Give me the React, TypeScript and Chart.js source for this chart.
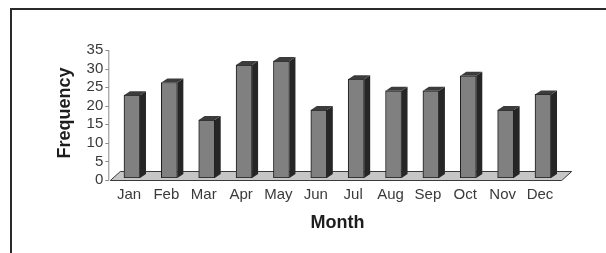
import React, { useEffect, useRef } from "react";
import { Chart, registerables } from "chart.js";

Chart.register(...registerables);

const months = ["Jan", "Feb", "Mar", "Apr", "May", "Jun", "Jul", "Aug", "Sep", "Oct", "Nov", "Dec"];
const frequency = [22.3, 25.7, 15.6, 30.4, 31.5, 18.3, 26.6, 23.5, 23.5, 27.5, 18.3, 22.5];
const yMin = 0;
const yMax = 35;
const yStep = 5;
const xTitle = "Month";
const yTitle = "Frequency";

const depthPlugin = {
  id: "depth3d",
  beforeDatasetsDraw(chart: any) {
    const { ctx } = chart;
    const x = chart.scales.x;
    const y = chart.scales.y;
    const z = y.getPixelForValue(0);
    const fl = x.left - 3;
    const fr = x.right;
    const fy = z + 2.5;
    const by = fy - 9;
    const d = 10;
    ctx.save();
    // floor
    ctx.beginPath();
    ctx.moveTo(fl, fy);
    ctx.lineTo(fr, fy);
    ctx.lineTo(fr + d, by);
    ctx.lineTo(fl + d, by);
    ctx.closePath();
    ctx.fillStyle = "#c6c6c6";
    ctx.fill();
    ctx.lineWidth = 1;
    ctx.strokeStyle = "#3a3a3a";
    ctx.stroke();
    // y axis line with tick marks
    const ax = x.left - 5;
    ctx.strokeStyle = "#8a8a8a";
    ctx.beginPath();
    ctx.moveTo(ax + 0.5, y.getPixelForValue(yMax) + 2);
    ctx.lineTo(ax + 0.5, fy);
    for (let v = yMin; v <= yMax; v += yStep) {
      const p = Math.round(y.getPixelForValue(v) + 2) + 0.5;
      ctx.moveTo(ax - 3, p);
      ctx.lineTo(ax + 0.5, p);
    }
    ctx.stroke();
    ctx.restore();
  },
  afterDatasetsDraw(chart: any) {
    const { ctx } = chart;
    const meta = chart.getDatasetMeta(0);
    const dx = 6;
    const dy = 4;
    ctx.save();
    meta.data.forEach((bar: any) => {
      const p = bar.getProps(["x", "y", "base", "width"], true);
      const l = p.x - p.width / 2;
      const r = p.x + p.width / 2;
      const top = p.y;
      const base = p.base;
      // side face
      ctx.beginPath();
      ctx.moveTo(r, top);
      ctx.lineTo(r + dx, top - dy);
      ctx.lineTo(r + dx, base - dy);
      ctx.lineTo(r, base);
      ctx.closePath();
      ctx.fillStyle = "#262626";
      ctx.fill();
      // top cap
      ctx.beginPath();
      ctx.moveTo(l, top);
      ctx.lineTo(l + dx, top - dy);
      ctx.lineTo(r + dx, top - dy);
      ctx.lineTo(r, top);
      ctx.closePath();
      ctx.fillStyle = "#3c3c3c";
      ctx.fill();
    });
    ctx.restore();
  },
};

export default function App() {
  const ref = useRef<HTMLCanvasElement | null>(null);

  useEffect(() => {
    if (!ref.current) return;
    const chart = new Chart(ref.current, {
      type: "bar",
      data: {
        labels: months,
        datasets: [
          {
            data: frequency,
            backgroundColor: "#808080",
            borderColor: "#1c1c1c",
            borderWidth: 1,
            borderSkipped: false,
            barThickness: 16,
          },
        ],
      },
      options: {
        animation: false,
        responsive: false,
        devicePixelRatio: 1,
        layout: { padding: { left: 0, top: 48, right: 44.3, bottom: 0 } },
        plugins: { legend: { display: false }, tooltip: { enabled: false } },
        scales: {
          x: {
            grid: { display: false, drawTicks: false },
            border: { display: false },
            ticks: {
              padding: 8,
              labelOffset: -3,
              color: "#3a3a3a",
              font: { family: "'Liberation Sans', Arial, sans-serif", size: 15 },
              maxRotation: 0,
              autoSkip: false,
            },
            title: {
              display: true,
              text: xTitle,
              color: "#1e1e1e",
              font: { family: "'Liberation Sans', Arial, sans-serif", size: 18, weight: "bold" },
              padding: { top: 0, bottom: 19 },
            },
            afterFit(scale: any) {
              scale.height = 75;
            },
          },
          y: {
            min: yMin,
            max: yMax,
            grid: { display: false, drawTicks: false },
            border: { display: false },
            ticks: {
              stepSize: yStep,
              autoSkip: false,
              padding: 10,
              labelOffset: 2,
              color: "#3a3a3a",
              font: { family: "'Liberation Sans', Arial, sans-serif", size: 15 },
            },
            title: {
              display: true,
              text: yTitle,
              color: "#1e1e1e",
              font: { family: "'Liberation Sans', Arial, sans-serif", size: 18, weight: "bold" },
              padding: { top: 54, bottom: 0 },
            },
            afterFit(scale: any) {
              scale.width = 113.3;
            },
          },
        },
      },
      plugins: [depthPlugin],
    } as any);
    return () => chart.destroy();
  }, []);

  return (
    <div style={{ position: "fixed", left: 0, top: 0, width: 606, height: 253, background: "#fff", overflow: "hidden" }}>
      <div
        style={{
          position: "absolute",
          left: 10,
          top: 8,
          right: -4,
          bottom: -4,
          borderTop: "2px solid #2a2a2a",
          borderLeft: "2px solid #2a2a2a",
        }}
      />
      <canvas ref={ref} width={606} height={253} style={{ position: "absolute", left: 0, top: 0 }} />
    </div>
  );
}
